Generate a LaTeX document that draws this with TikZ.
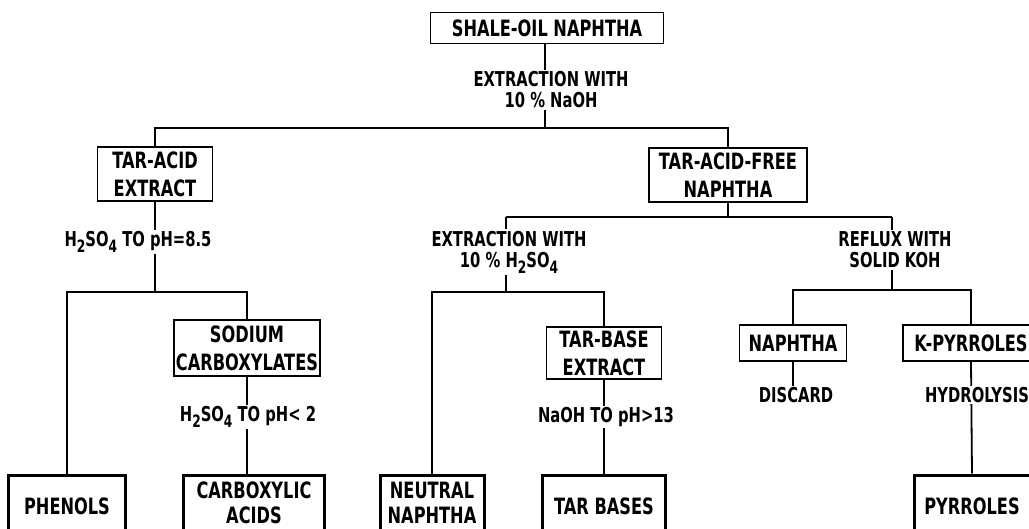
\documentclass[tikz,border=0pt]{standalone}
\usepackage{fontspec}
\newfontfamily\lett{DejaVu Sans}[FakeStretch=0.72]
\usetikzlibrary{backgrounds}

\newcommand{\chemsub}[1]{\raisebox{-0.55ex}{\fontsize{17}{17}\selectfont #1}}

\begin{document}
\begin{tikzpicture}[x=1pt, y=-1pt,
		box/.style={draw, line width=1.8pt, align=center, inner sep=2pt,
				font=\lett\bfseries\fontsize{22.5}{28}\selectfont},
		endbox/.style={box, line width=3pt, minimum height=62},
		twoline/.style={endbox, minimum height=56, font=\lett\bfseries\fontsize{22.5}{25}\selectfont},
		link/.style={line width=1.8pt},
		cond/.style={fill=white, align=center, inner sep=1.5pt,
				font=\lett\bfseries\fontsize{20.5}{21}\selectfont}]
	\useasboundingbox (0,0) rectangle (1029,529);
	\clip (0,0) rectangle (1029,529);

	% --- Boxes ---
	\node[box, minimum width=233, minimum height=31] (shale) at (547,28) {SHALE-OIL NAPHTHA};
	\node[box, minimum width=115, minimum height=54] (tarac) at (155,174) {TAR-ACID\\EXTRACT};
	\node[box, minimum width=158, minimum height=54] (taf) at (728,175) {TAR-ACID-FREE\\NAPHTHA};
	\node[box, minimum width=142, minimum height=56] (sodium) at (247,348) {SODIUM\\CARBOXYLATES};
	\node[box, minimum width=115, minimum height=52] (tarbase) at (604,353) {TAR-BASE\\EXTRACT};
	\node[box, minimum width=107, minimum height=36] (naphtha) at (793,343) {NAPHTHA};
	\node[box, minimum width=136, minimum height=36] (kpyr) at (971,343) {K-PYRROLES};

	% Products (bottom row)
	\node[endbox, minimum width=117] (phenols) at (67,506) {PHENOLS};
	\node[twoline, minimum width=141] (carbox) at (254,503) {CARBOXYLIC\\ACIDS};
	\node[twoline, minimum width=104] (neutral) at (432,503) {NEUTRAL\\NAPHTHA};
	\node[endbox, minimum width=123] (tarbases) at (604,506) {TAR BASES};
	\node[endbox, minimum width=116] (pyrroles) at (972,506) {PYRROLES};

	% --- Conditions ---
	\node[cond] (naoh) at (551,90) {EXTRACTION WITH\\10 \% NaOH};
	\node[cond] (acid1) at (138,242) {H\chemsub{2}SO\chemsub{4} TO pH=8.5};
	\node[cond] (extr) at (509,252) {EXTRACTION WITH\\10 \% H\chemsub{2}SO\chemsub{4}};
	\node[cond] (reflux) at (895,250) {REFLUX WITH\\SOLID KOH};
	\node[cond] (acid2) at (248,417) {H\chemsub{2}SO\chemsub{4} TO pH< 2};
	\node[cond] (base) at (606,417) {NaOH TO pH>13};
	\node[cond] (discard) at (796,395) {DISCARD};
	\node[cond] (hydro) at (977,395) {HYDROLYSIS};

	% branch points
	\coordinate (j0) at (545,128);
	\coordinate (a1) at (155,292);
	\coordinate (t1) at (506,217);
	\coordinate (t2) at (892,217);
	\coordinate (b1) at (506,292);
	\coordinate (k1) at (892,290);

	% --- Connectors ---
	\begin{pgfonlayer}{background}
		\draw[link] (shale.south -| j0) -- (j0);
		\draw[link] (tarac.north) |- (j0) -| (taf.north);
		\draw[link] (tarac.south) -- (a1);
		\draw[link] (phenols.north) |- (a1) -| (sodium.north);
		\draw[link] (sodium.south) -- (sodium.south |- carbox.north);
		\draw[link] (taf.south) -- (taf.south |- t1);
		\draw[link] (t1) -- (t2);
		\draw[link] (t1) -- (b1);
		\draw[link] (neutral.north) |- (b1) -| (tarbase.north);
		\draw[link] (tarbase.south) -- (tarbases.north);
		\draw[link] (t2) -- (k1);
		\draw[link] (naphtha.north) |- (k1) -| (kpyr.north);
		\draw[link] (naphtha.south) -- (naphtha.south |- discard.north);
		\draw[link] (kpyr.south) -- (pyrroles.north);
	\end{pgfonlayer}
\end{tikzpicture}
\end{document}
